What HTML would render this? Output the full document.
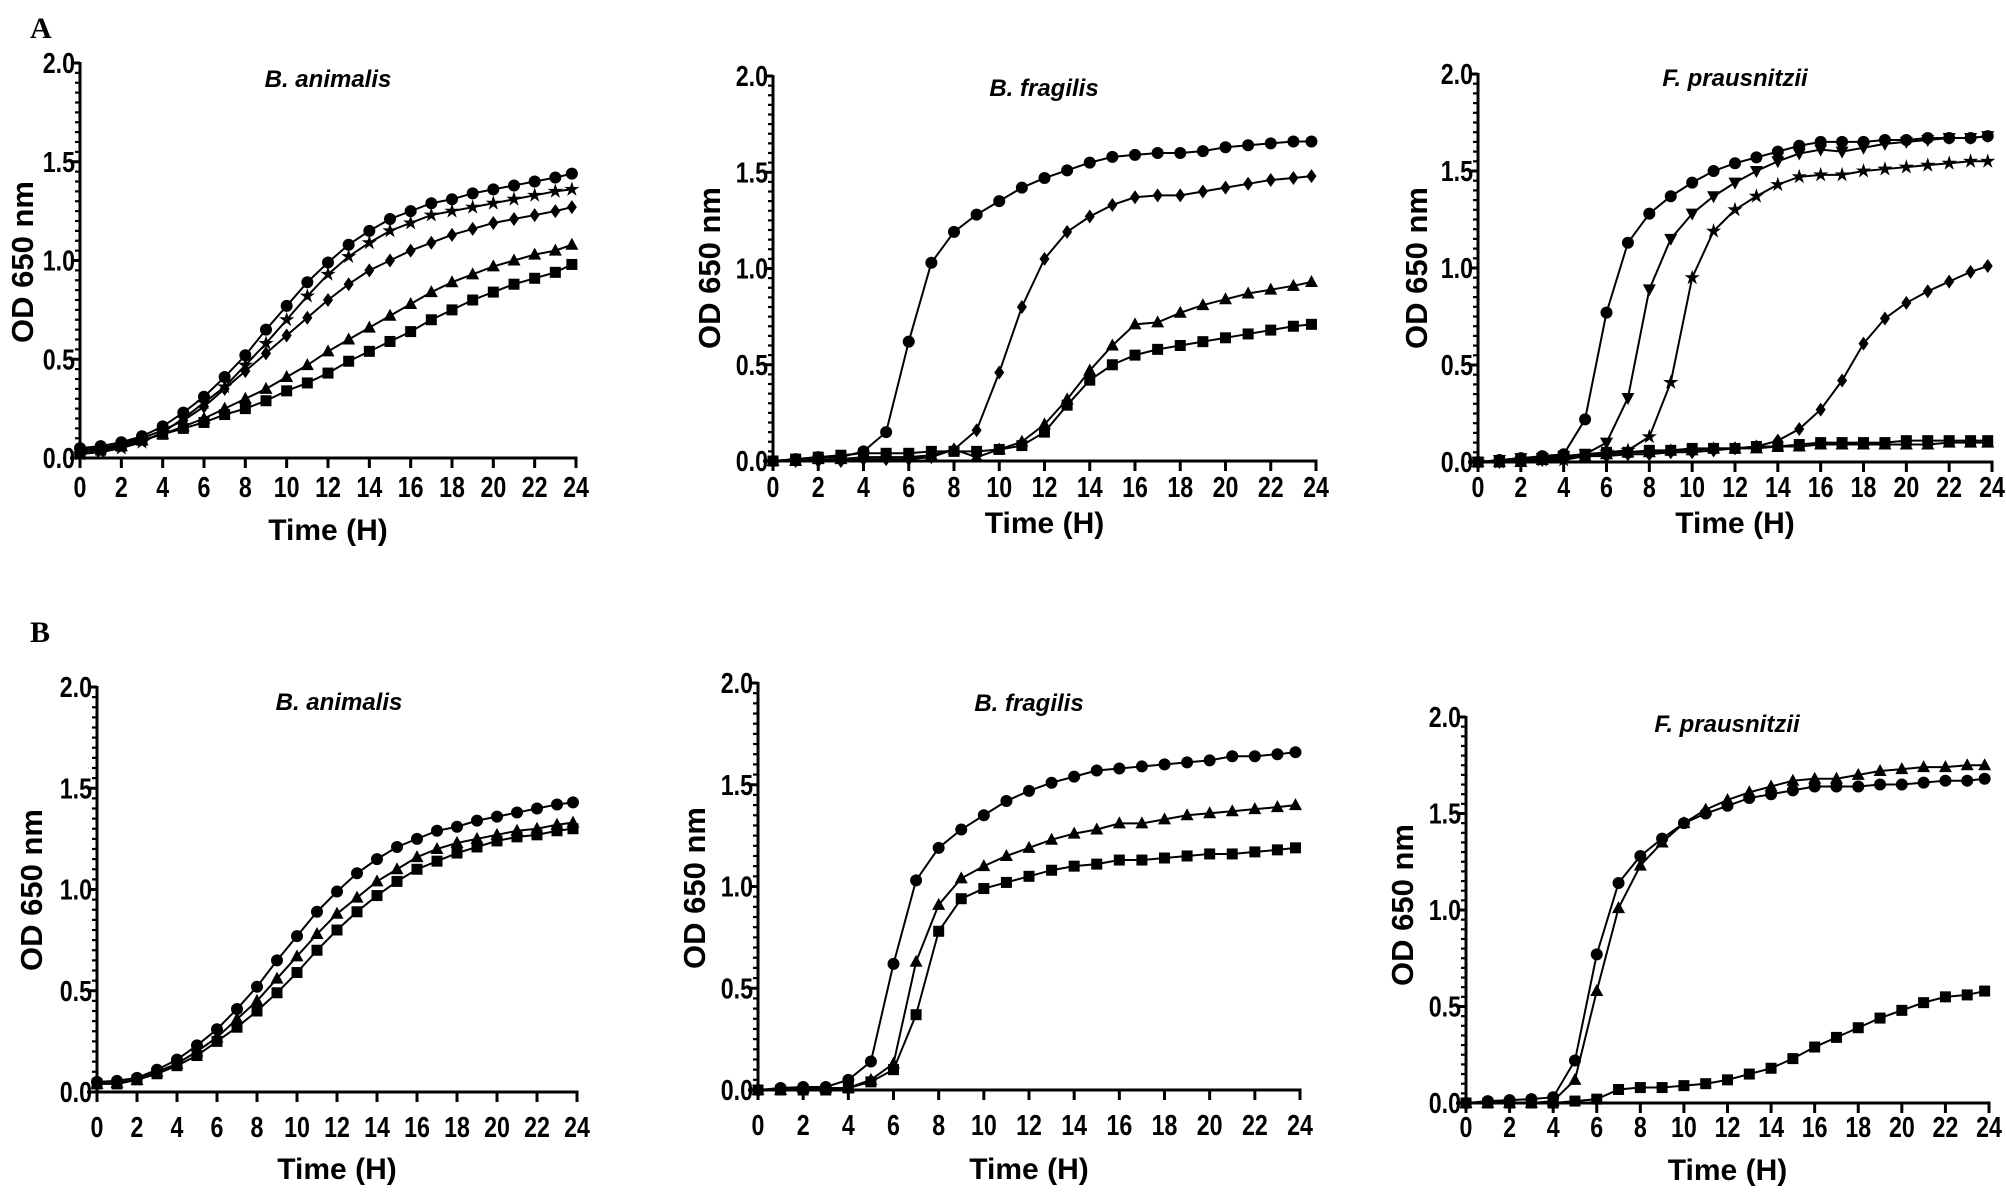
<!DOCTYPE html>
<html><head><meta charset="utf-8">
<style>
html,body{margin:0;padding:0;background:#fff;}
svg{display:block;}
text{font-family:"Liberation Sans",Arial,sans-serif;fill:#000;}
.tk{font-weight:bold;font-size:29px;}
.ax{font-weight:bold;font-size:30px;}
.yl{font-weight:bold;font-size:31px;}
.tt{font-weight:bold;font-style:italic;font-size:24px;}
.pl{font-family:"Liberation Serif",serif;font-weight:bold;font-size:30px;}
</style></head>
<body>
<svg id="s" width="2006" height="1199" viewBox="0 0 2006 1199" xmlns="http://www.w3.org/2000/svg">
<text class="pl" x="30" y="38">A</text>
<text class="pl" x="30" y="642">B</text>
</svg>
<script>
const S=document.getElementById('s');const NS='http://www.w3.org/2000/svg';
function el(t,a,txt){const e=document.createElementNS(NS,t);for(const k in a)e.setAttribute(k,a[k]);if(txt!==undefined)e.textContent=txt;S.appendChild(e);return e;}
function marker(type,x,y){
 const r=5.5;
 if(type==='c')el('circle',{cx:x,cy:y,r:r+0.5,fill:'#000'});
 else if(type==='s')el('rect',{x:x-r,y:y-r,width:2*r,height:2*r,fill:'#000'});
 else if(type==='t')el('polygon',{points:`${x},${y-7} ${x-6.5},${y+5} ${x+6.5},${y+5}`,fill:'#000'});
 else if(type==='v')el('polygon',{points:`${x},${y+7} ${x-6.5},${y-5} ${x+6.5},${y-5}`,fill:'#000'});
 else if(type==='d')el('polygon',{points:`${x},${y-7} ${x-5},${y} ${x},${y+7} ${x+5},${y}`,fill:'#000'});
 else if(type==='st'){let p=[];for(let i=0;i<10;i++){const a=-Math.PI/2+i*Math.PI/5;const rr=i%2?3:8;p.push((x+rr*Math.cos(a)).toFixed(1)+','+(y+rr*Math.sin(a)).toFixed(1));}el('polygon',{points:p.join(' '),fill:'#000'});}
}
function tk(x,y,anchor,s){el('text',{class:'tk',x:0,y:0,'text-anchor':anchor,transform:`translate(${x},${y}) scale(0.8,1)`},s);}
function panel(P){
 const {x0,x24,y0,y2,title,tx,ty,ly,ty2,ylx,yly,series}=P;
 const X=h=>x0+(x24-x0)*h/24, Y=v=>y0-(y0-y2)*v/2;
 for(const s of series){
  const pts=s.d.map((v,i)=>[X(i===24?23.8:i),Y(v)]);
  el('polyline',{points:pts.map(p=>p.join(',')).join(' '),fill:'none',stroke:'#000','stroke-width':2});
  pts.forEach(p=>marker(s.m,p[0],p[1]));
 }
 el('line',{x1:x0,y1:y2-1,x2:x0,y2:y0+10,stroke:'#000','stroke-width':3});
 el('line',{x1:x0-10,y1:y0,x2:x24+1.5,y2:y0,stroke:'#000','stroke-width':3});
 for(let i=0;i<=40;i++){const v=i*0.05;const y=Y(v);const maj=i%10===0;
  el('line',{x1:x0-(maj?9:5),y1:y,x2:x0,y2:y,stroke:'#000','stroke-width':maj?3:2.2});
  if(maj)tk(x0-5,y+10,'end',v.toFixed(1));}
 for(let h=0;h<=24;h+=2){const x=X(h);
  el('line',{x1:x,y1:y0,x2:x,y2:y0+10,stroke:'#000','stroke-width':3});
  tk(x,ly+10,'middle',String(h));}
 el('text',{class:'tt',x:tx,y:ty+8,'text-anchor':'middle'},title);
 el('text',{class:'ax',x:(x0+x24)/2,y:ty2+11,'text-anchor':'middle'},'Time (H)');
 el('text',{class:'yl',x:0,y:0,'text-anchor':'middle',transform:`translate(${ylx+11},${yly}) rotate(-90)`},'OD 650 nm');
}
const A1={x0:80,x24:576,y0:458,y2:63,title:'B. animalis',tx:328,ty:79,ly:487,ty2:529,ylx:22,yly:262,series:[
{m:'s',d:[0.03,0.04,0.06,0.09,0.12,0.15,0.18,0.22,0.25,0.29,0.34,0.38,0.43,0.49,0.54,0.59,0.64,0.70,0.75,0.80,0.84,0.88,0.91,0.94,0.98]},
{m:'t',d:[0.04,0.05,0.06,0.09,0.12,0.16,0.2,0.25,0.3,0.35,0.41,0.47,0.54,0.60,0.66,0.72,0.78,0.84,0.89,0.93,0.97,1.00,1.03,1.05,1.08]},
{m:'d',d:[0.04,0.05,0.07,0.1,0.14,0.19,0.26,0.35,0.44,0.53,0.62,0.71,0.80,0.88,0.95,1.00,1.05,1.09,1.13,1.16,1.19,1.21,1.23,1.25,1.27]},
{m:'st',d:[0.02,0.03,0.05,0.08,0.13,0.2,0.28,0.36,0.47,0.58,0.70,0.82,0.93,1.02,1.09,1.15,1.19,1.23,1.25,1.27,1.29,1.31,1.33,1.35,1.36]},
{m:'c',d:[0.05,0.06,0.08,0.11,0.16,0.23,0.31,0.41,0.52,0.65,0.77,0.89,0.99,1.08,1.15,1.21,1.25,1.29,1.31,1.34,1.36,1.38,1.40,1.42,1.44]}]};
const A2={x0:773,x24:1316,y0:461,y2:76,title:'B. fragilis',tx:1044,ty:88,ly:487,ty2:522,ylx:709,yly:268,series:[
{m:'s',d:[0,0.01,0.02,0.03,0.04,0.04,0.04,0.05,0.05,0.05,0.06,0.08,0.15,0.29,0.42,0.50,0.55,0.58,0.60,0.62,0.64,0.66,0.68,0.70,0.71]},
{m:'t',d:[0,0,0.01,0.01,0.02,0.02,0.02,0.03,0.06,0.02,0.06,0.10,0.19,0.32,0.47,0.60,0.71,0.72,0.77,0.81,0.84,0.87,0.89,0.91,0.93]},
{m:'d',d:[0,0,0,0,0.01,0.01,0.01,0.02,0.06,0.16,0.46,0.80,1.05,1.19,1.27,1.33,1.37,1.38,1.38,1.40,1.42,1.44,1.46,1.47,1.48]},
{m:'c',d:[0,0.01,0.02,0.02,0.05,0.15,0.62,1.03,1.19,1.28,1.35,1.42,1.47,1.51,1.55,1.58,1.59,1.60,1.60,1.61,1.63,1.64,1.65,1.66,1.66]}]};
const A3={x0:1478,x24:1992,y0:462,y2:74,title:'F. prausnitzii',tx:1735,ty:78,ly:487,ty2:522,ylx:1416,yly:268,series:[
{m:'t',d:[0,0,0,0.01,0.02,0.03,0.04,0.05,0.05,0.06,0.06,0.07,0.07,0.07,0.08,0.08,0.09,0.09,0.09,0.09,0.09,0.09,0.1,0.1,0.1]},
{m:'s',d:[0,0,0.01,0.02,0.03,0.04,0.05,0.05,0.06,0.06,0.07,0.07,0.07,0.08,0.08,0.09,0.1,0.1,0.1,0.1,0.11,0.11,0.11,0.11,0.11]},
{m:'d',d:[0,0,0.01,0.01,0.02,0.03,0.03,0.04,0.04,0.05,0.05,0.06,0.07,0.08,0.11,0.17,0.27,0.42,0.61,0.74,0.82,0.88,0.93,0.98,1.01]},
{m:'st',d:[0,0,0.01,0.01,0.01,0.03,0.05,0.06,0.13,0.41,0.95,1.19,1.30,1.37,1.43,1.47,1.48,1.48,1.50,1.51,1.52,1.53,1.54,1.55,1.55]},
{m:'v',d:[0,0.01,0.02,0.02,0.03,0.04,0.10,0.33,0.89,1.15,1.28,1.37,1.44,1.50,1.55,1.59,1.61,1.60,1.62,1.64,1.65,1.66,1.67,1.67,1.68]},
{m:'c',d:[0,0.01,0.02,0.03,0.04,0.22,0.77,1.13,1.28,1.37,1.44,1.50,1.54,1.57,1.60,1.63,1.65,1.65,1.65,1.66,1.66,1.67,1.67,1.67,1.68]}]};
const B1={x0:97,x24:577,y0:1092,y2:687,title:'B. animalis',tx:339,ty:702,ly:1127,ty2:1168,ylx:31,yly:890,series:[
{m:'s',d:[0.04,0.04,0.06,0.09,0.13,0.18,0.25,0.32,0.40,0.49,0.59,0.70,0.80,0.89,0.97,1.04,1.10,1.14,1.18,1.21,1.24,1.26,1.27,1.29,1.30]},
{m:'t',d:[0.04,0.045,0.06,0.1,0.14,0.2,0.27,0.36,0.45,0.56,0.67,0.78,0.88,0.96,1.04,1.10,1.16,1.20,1.23,1.25,1.27,1.29,1.30,1.32,1.33]},
{m:'c',d:[0.05,0.055,0.07,0.11,0.16,0.23,0.31,0.41,0.52,0.65,0.77,0.89,0.99,1.08,1.15,1.21,1.25,1.29,1.31,1.34,1.36,1.38,1.40,1.42,1.43]}]};
const B2={x0:758,x24:1300,y0:1090,y2:683,title:'B. fragilis',tx:1029,ty:703,ly:1125,ty2:1168,ylx:694,yly:888,series:[
{m:'s',d:[0,0,0,0,0.01,0.04,0.10,0.37,0.78,0.94,0.99,1.02,1.05,1.08,1.10,1.11,1.13,1.13,1.14,1.15,1.16,1.16,1.17,1.18,1.19]},
{m:'t',d:[0,0,0.01,0.01,0.01,0.05,0.13,0.63,0.91,1.04,1.10,1.15,1.19,1.23,1.26,1.28,1.31,1.31,1.33,1.35,1.36,1.37,1.38,1.39,1.40]},
{m:'c',d:[0,0.01,0.015,0.015,0.05,0.14,0.62,1.03,1.19,1.28,1.35,1.42,1.47,1.51,1.54,1.57,1.58,1.59,1.60,1.61,1.62,1.64,1.64,1.65,1.66]}]};
const B3={x0:1466,x24:1989,y0:1103,y2:717,title:'F. prausnitzii',tx:1727,ty:724,ly:1127,ty2:1169,ylx:1402,yly:905,series:[
{m:'s',d:[0,0,0,0,0,0.01,0.02,0.07,0.08,0.08,0.09,0.1,0.12,0.15,0.18,0.23,0.29,0.34,0.39,0.44,0.48,0.52,0.55,0.56,0.58]},
{m:'t',d:[0,0,0,0,0.01,0.12,0.58,1.01,1.23,1.35,1.45,1.52,1.57,1.61,1.64,1.67,1.68,1.68,1.70,1.72,1.73,1.74,1.74,1.75,1.75]},
{m:'c',d:[0,0.01,0.015,0.02,0.03,0.22,0.77,1.14,1.28,1.37,1.45,1.50,1.54,1.58,1.60,1.62,1.64,1.64,1.64,1.65,1.65,1.66,1.67,1.67,1.68]}]};
[A1,A2,A3,B1,B2,B3].forEach(panel);
</script>
</body></html>
